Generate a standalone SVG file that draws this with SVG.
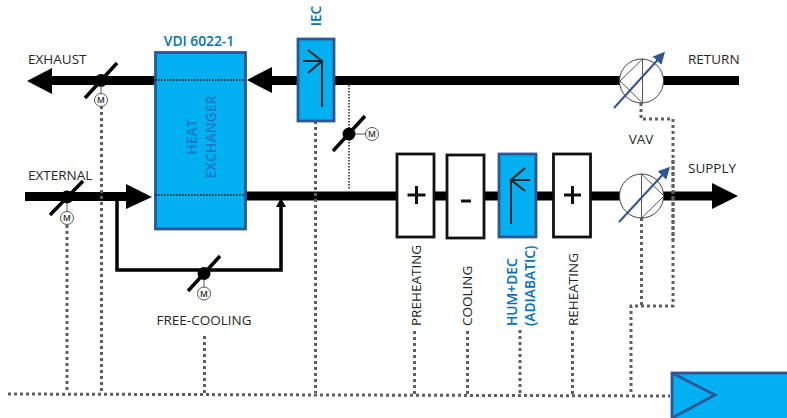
<svg xmlns="http://www.w3.org/2000/svg" width="787" height="418" viewBox="0 0 787 418">
<style>
text{font-family:"Open Sans","Noto Sans","Liberation Sans",sans-serif;font-size:13.5px;fill:#262626}
.b{fill:#0070c0;font-weight:600;font-size:13.8px}
.hx{fill:#1f78c8;font-weight:600;font-size:14px}
.duct{fill:none;stroke:#000;stroke-width:9}
.by{fill:none;stroke:#000;stroke-width:3.5}
.ctl{fill:none;stroke:#5f5f5f;stroke-width:3;stroke-dasharray:3 3}
.fine{fill:none;stroke:#000;stroke-width:1.3;stroke-dasharray:1.5 1.5}
.blue{fill:#00b0f0;stroke:#2f5597;stroke-width:2.8}
.white{fill:#fff;stroke:#111;stroke-width:2.8}
.sym{fill:none;stroke:#222;stroke-width:2}
.pm{fill:none;stroke:#111;stroke-width:3}
.blade{stroke:#000;stroke-width:3.5}
.mc{fill:#fff;stroke:#444;stroke-width:.9}
.mt{font-size:8.5px;font-weight:600;text-anchor:middle}
.fan{fill:#fff;stroke:#444;stroke-width:1}
.fl{fill:none;stroke:#555;stroke-width:1}
.fa{stroke:#2f5597;stroke-width:2;marker-end:url(#fh)}
</style>
<defs>
<marker id="fh" markerWidth="6" markerHeight="6" refX="4.5" refY="3" orient="auto"><path d="M0 0L6 3L0 6Z" fill="#2f5597"/></marker>
<g id="m"><circle class="mc" r="6.5"/><text class="mt" y="3">M</text></g>
</defs>
<g id="connectors">
<path class="duct" d="M50 80.500H155M270 80.500H625M660 80.500H739"/>
<path class="duct" d="M25 196.500H128M245 196H625M660 196H714"/>
<path d="M27 81L52 68V94ZM247 80L272 67V93ZM152 197L126 184V209ZM738 196L712 183V209Z" fill="#000"/>
<path class="by" d="M117 197V270H281V205"/>
<path d="M281 198L276 207H286Z" fill="#000"/>
<path class="fine" d="M349 85V190"/>
<path class="ctl" d="M101.500 106V393M67 225V393M315.500 121V393M204.500 336V393M414.500 331V394M467.500 331V394M520 330V394M572.500 331V394"/>
<path class="ctl" d="M641 103V119H673V306H631V394M641.500 218V306"/>
<path class="ctl" d="M8 394L670 396"/>
</g>
<g id="hx"><rect class="blue" x="155.500" y="52.500" width="90" height="176.500"/>
<path class="fine" d="M155 80H245M155 195H245"/>
<text class="hx" transform="translate(197 137) rotate(-90)" text-anchor="middle">HEAT</text>
<text class="hx" transform="translate(216 137) rotate(-90)" text-anchor="middle">EXCHANGER</text></g>
<text id="vdi" class="b" x="199" y="46" text-anchor="middle">VDI 6022-1</text>
<g id="iec"><rect class="blue" x="298" y="39" width="36" height="82"/>
<path class="sym" d="M322 107V61H303M308 50L322 61L308 73"/></g>
<text class="b" transform="translate(321 16) rotate(-90)" text-anchor="middle">IEC</text>
<g id="damper-exhaust"><circle cx="101" cy="80.500" r="6.500"/><path class="blade" d="M85 98L117 63"/><path class="fl" d="M101 86V93"/><use href="#m" x="101" y="100"/></g>
<g id="damper-bypass"><circle cx="349" cy="134" r="6.500"/><path class="blade" d="M333 151L365 116"/><path class="fl" d="M355 134H366"/><use href="#m" x="372" y="134"/></g>
<g id="damper-external"><circle cx="67" cy="197" r="6.500"/><path class="blade" d="M50 215L83 181"/><path class="fl" d="M67 203V212"/><use href="#m" x="67" y="218"/></g>
<g id="damper-free"><circle cx="204" cy="273.500" r="6.500"/><path class="blade" d="M188 291L220 256"/><path class="fl" d="M204 280V287"/><use href="#m" x="204" y="293.500"/></g>
<g id="preheat"><rect class="white" x="397" y="154" width="37" height="83"/><path class="pm" d="M416.500 186V204M407.500 195H425.500"/></g>
<g id="cool"><rect class="white" x="447" y="155" width="37" height="83"/><path class="pm" d="M461 201H471"/></g>
<g id="hum"><rect class="blue" x="499" y="154" width="37" height="83"/><path class="sym" d="M511 224V180H530M525 168L511 180L525 191"/></g>
<g id="reheat"><rect class="white" x="553.500" y="154" width="37" height="83"/><path class="pm" d="M572.500 186V204M564 195H581"/></g>
<g id="fan-return"><circle class="fan" cx="641.500" cy="81" r="22"/><path class="fl" d="M642.500 59V103L620 81L642.500 59"/><line class="fa" x1="614" y1="108" x2="663" y2="54"/></g>
<g id="fan-supply"><circle class="fan" cx="641.500" cy="196" r="22"/><path class="fl" d="M641.500 174V218L664 196L641.500 174"/><line class="fa" x1="619" y1="222" x2="668" y2="169"/></g>
<path class="ctl" d="M673 160V240"/>
<text x="28" y="64">EXHAUST</text>
<text x="28" y="180">EXTERNAL</text>
<text x="204" y="325" text-anchor="middle">FREE-COOLING</text>
<text x="688" y="64">RETURN</text>
<text x="688" y="173">SUPPLY</text>
<text x="641" y="144" text-anchor="middle">VAV</text>
<text transform="translate(421 326) rotate(-90)">PREHEATING</text>
<text transform="translate(472 326) rotate(-90)">COOLING</text>
<text class="b" transform="translate(517 326) rotate(-90)">HUM+DEC</text>
<text class="b" transform="translate(535 326) rotate(-90)">(ADIABATIC)</text>
<text transform="translate(578 326) rotate(-90)">REHEATING</text>
<g id="controller"><rect class="blue" x="672" y="373" width="118" height="48"/><path d="M672 373L715 395L672 418" fill="none" stroke="#2f5597" stroke-width="2.8"/></g>
</svg>
